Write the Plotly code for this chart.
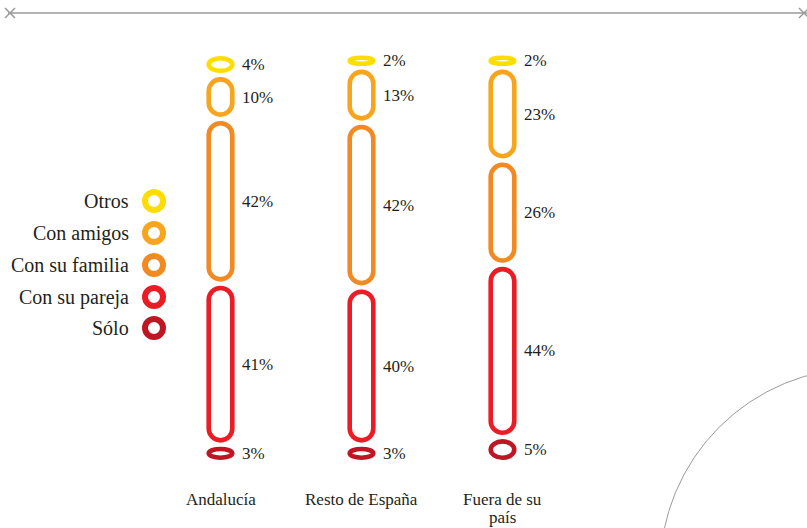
import plotly.graph_objects as go

# ---- data ----
categories = ["Andalucía", "Resto de España", "Fuera de su<br>país"]
groups = ["Otros", "Con amigos", "Con su familia", "Con su pareja", "Sólo"]
otros = [4, 2, 2]
con_amigos = [10, 13, 23]
con_familia = [42, 42, 26]
con_pareja = [41, 40, 44]
solo = [3, 3, 5]
colors = ["#FFDD00", "#F8A51E", "#F18A23", "#EC1C24", "#BE1622"]

# ---- layout constants (pixels) ----
W, H = 807, 528
COL0, COLSTEP = 220.5, 141.0        # pixel x of first column, spacing
Y0PX, PXPER = 460.0, 3.78           # pixel y of stack bottom, pixels per percent
EXTRA, GAP = 2.0, 4.0               # extra outer height per pill, gap between pills (px)
HALFW = 11.8                        # half width of pill centre line (px)
STROKE = 4.6
MINH = 6.0                          # minimum centre-line height (px)
TXT = "#231f20"
SERIF = "Liberation Serif"

x_lo = -COL0 / COLSTEP
x_hi = (W - COL0) / COLSTEP
y_lo = -(H - Y0PX) / PXPER
y_hi = Y0PX / PXPER

def xu(px):  # pixels -> x data units
    return px / COLSTEP

def yu(px):  # pixels -> y data units
    return px / PXPER

def pill_path(xc, yb, yt):
    """Stadium outline between yb and yt (data units), centred on xc."""
    rx = xu(HALFW)
    hpx = (yt - yb) * PXPER
    ry = yu(min(HALFW, hpx / 2))
    k = 0.5523
    xl, xr = xc - rx, xc + rx
    p = [f"M{xl},{yb + ry}", f"L{xl},{yt - ry}",
         f"C{xl},{yt - ry + k * ry} {xc - k * rx},{yt} {xc},{yt}",
         f"C{xc + k * rx},{yt} {xr},{yt - ry + k * ry} {xr},{yt - ry}",
         f"L{xr},{yb + ry}",
         f"C{xr},{yb + ry - k * ry} {xc + k * rx},{yb} {xc},{yb}",
         f"C{xc - k * rx},{yb} {xl},{yb + ry - k * ry} {xl},{yb + ry}", "Z"]
    return " ".join(p)

# series from bottom to top
stack = [(solo, colors[4]), (con_pareja, colors[3]), (con_familia, colors[2]),
         (con_amigos, colors[1]), (otros, colors[0])]

shapes = []
annotations = []
for i in range(len(categories)):
    y0 = 0.0
    for vals, col in stack:
        v = vals[i]
        y1 = y0 + v + yu(EXTRA)              # outer extent of this pill
        cb = y0 + yu(STROKE / 2)
        ct = y1 - yu(STROKE / 2)
        if (ct - cb) * PXPER < MINH:
            mid = (y0 + y1) / 2
            cb, ct = mid - yu(MINH / 2), mid + yu(MINH / 2)
        shapes.append(dict(type="path", xref="x", yref="y",
                           path=pill_path(i, cb, ct),
                           line=dict(color=col, width=STROKE),
                           fillcolor="rgba(0,0,0,0)"))
        annotations.append(dict(x=i, y=(y0 + y1) / 2, xref="x", yref="y",
                                text=f"{v}%", showarrow=False, xanchor="left",
                                yanchor="middle", xshift=19,
                                font=dict(family=SERIF, size=17, color=TXT)))
        y0 = y1 + yu(GAP)
    for j, line in enumerate(categories[i].split("<br>")):
        annotations.append(dict(x=i, y=1 - (499 + 18 * j) / H, xref="x", yref="paper",
                                text=line, showarrow=False,
                                xanchor="center", yanchor="middle",
                                font=dict(family=SERIF, size=17, color=TXT)))

# legend
leg_y_px = [201, 233, 265, 297, 328]
leg_x = xu(154) + x_lo
fig = go.Figure()
fig.add_trace(go.Scatter(
    x=[leg_x] * len(groups),
    y=[yu(Y0PX - py) for py in leg_y_px],
    mode="markers",
    marker=dict(symbol="circle-open", size=18,
                line=dict(color=colors, width=6), color=colors),
    hoverinfo="skip", showlegend=False))
for g, py in zip(groups, leg_y_px):
    annotations.append(dict(x=131 / W, y=1 - py / H, xref="paper", yref="paper",
                            text=g, showarrow=False, xanchor="right",
                            yanchor="middle",
                            font=dict(family=SERIF, size=20, color=TXT)))

# decorations: top rule with crosses, arc at bottom right
GRAY = "#9a9a9a"
ly = 1 - 13 / H
shapes.append(dict(type="line", xref="paper", yref="paper",
                   x0=8 / W, x1=1, y0=ly, y1=ly,
                   line=dict(color=GRAY, width=1.5)))
for cx in (10, 804):
    s = 5
    for d in (1, -1):
        shapes.append(dict(type="line", xref="paper", yref="paper",
                           x0=(cx - s) / W, x1=(cx + s) / W,
                           y0=1 - (13 - d * s) / H, y1=1 - (13 + d * s) / H,
                           line=dict(color=GRAY, width=1.5)))
ccx, ccy, cr = 862, 570, 202
shapes.append(dict(type="circle", xref="paper", yref="paper",
                   x0=(ccx - cr) / W, x1=(ccx + cr) / W,
                   y0=1 - (ccy + cr) / H, y1=1 - (ccy - cr) / H,
                   line=dict(color=GRAY, width=1)))

fig.update_layout(
    width=W, height=H,
    margin=dict(l=0, r=0, t=0, b=0),
    paper_bgcolor="white", plot_bgcolor="white",
    xaxis=dict(range=[x_lo, x_hi], visible=False, fixedrange=True),
    yaxis=dict(range=[y_lo, y_hi], visible=False, fixedrange=True),
    shapes=shapes, annotations=annotations,
    showlegend=False, hovermode=False,
)
fig.write_html("out.html", config={"displayModeBar": False},
               post_script="document.body.style.margin='0';document.body.style.overflow='hidden';")
